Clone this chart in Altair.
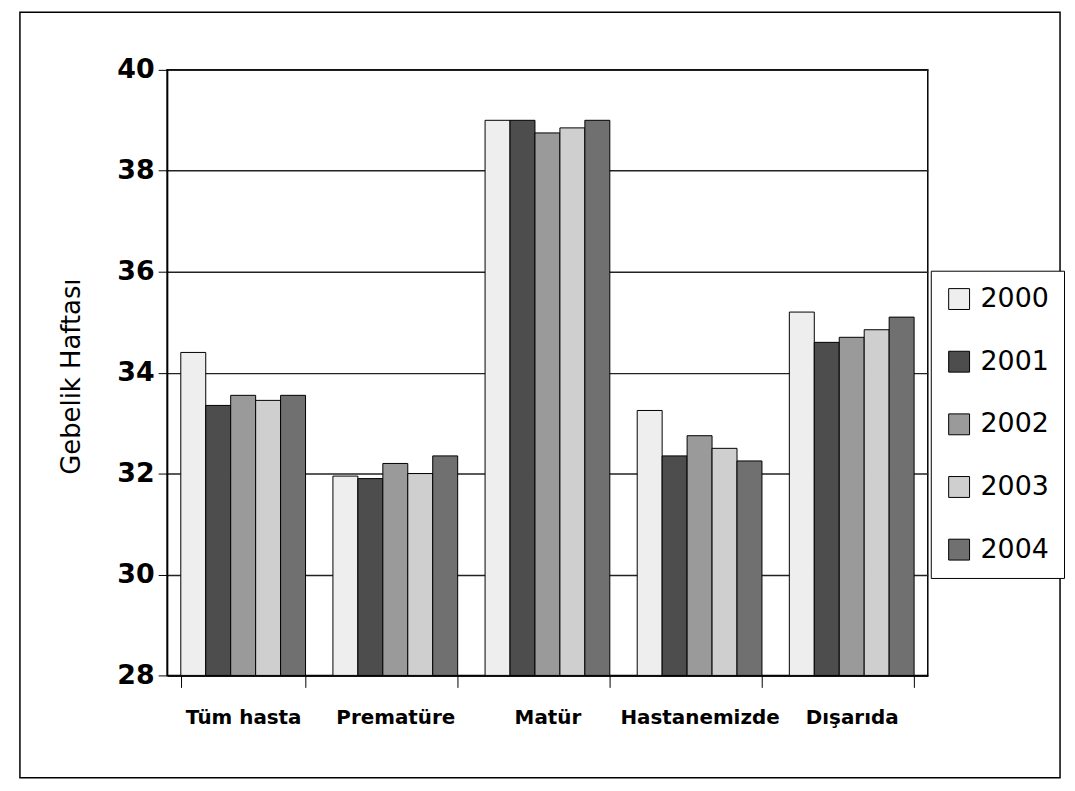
import altair as alt
import pandas as pd

categories = ["Tüm hasta", "Prematüre", "Matür", "Hastanemizde", "Dışarıda"]
years = ["2000", "2001", "2002", "2003", "2004"]
v2000 = [34.4, 31.95, 39.0, 33.25, 35.2]
v2001 = [33.35, 31.9, 39.0, 32.35, 34.6]
v2002 = [33.55, 32.2, 38.75, 32.75, 34.7]
v2003 = [33.45, 32.0, 38.85, 32.5, 34.85]
v2004 = [33.55, 32.35, 39.0, 32.25, 35.1]
fills = ["#eeeeee", "#4d4d4d", "#9a9a9a", "#cfcfcf", "#707070"]

series = [v2000, v2001, v2002, v2003, v2004]
rows = []
for yr, vals in zip(years, series):
    for cat, v in zip(categories, vals):
        rows.append({"kategori": cat, "yil": yr, "hafta": v})
df = pd.DataFrame(rows)

FONT = "DejaVu Sans"

bars = alt.Chart(df).mark_bar(stroke="black", strokeWidth=1).encode(
    x=alt.X(
        "kategori:N",
        sort=categories,
        scale=alt.Scale(paddingInner=0.18, paddingOuter=0.09),
        axis=alt.Axis(
            title=None,
            labelAngle=0,
            labelFont=FONT,
            labelFontSize=20,
            labelFontWeight="bold",
            labelColor="black",
            labelPadding=20,
            tickBand="extent",
            tickSize=12,
            tickColor="black",
            domainColor="black",
            domainWidth=1.5,
            grid=False,
        ),
    ),
    xOffset=alt.XOffset("yil:N", sort=years, scale=alt.Scale(paddingInner=0)),
    y=alt.Y(
        "hafta:Q",
        scale=alt.Scale(domain=[28, 40], zero=False, nice=False),
        axis=alt.Axis(
            title="Gebelik Haftası",
            titleFont=FONT,
            titleFontSize=26,
            titleFontWeight="normal",
            titleColor="black",
            titleAngle=270,
            titleAlign="center",
            titleBaseline="middle",
            titleX=-96,
            titleY=308,
            values=[28, 30, 32, 34, 36, 38, 40],
            labelFont=FONT,
            labelFontSize=27,
            labelFontWeight="bold",
            labelColor="black",
            labelPadding=4,
            tickSize=9,
            tickColor="black",
            domainColor="black",
            domainWidth=1.5,
            gridColor="#222222",
            gridWidth=1.5,
        ),
    ),
    y2=alt.datum(28),
    color=alt.Color(
        "yil:N",
        sort=years,
        scale=alt.Scale(domain=years, range=fills),
        legend=alt.Legend(
            title=None,
            orient="none",
            legendX=768,
            legendY=202,
            direction="vertical",
            symbolType="square",
            symbolSize=441,
            symbolStrokeColor="black",
            symbolStrokeWidth=1,
            symbolOpacity=1,
            labelFont=FONT,
            labelFontSize=27,
            labelColor="black",
            labelOffset=8,
            rowPadding=35,
            padding=15,
            strokeColor="black",
            fillColor="white",
        ),
    ),
)

frame = alt.Chart(alt.Data(values=[{}])).mark_rect(
    fill="white", fillOpacity=0, stroke="black", strokeWidth=1.5
).encode(
    x=alt.value(-148),
    x2=alt.value(898),
    y=alt.value(-58),
    y2=alt.value(712),
)

chart = alt.layer(frame, bars).properties(
    width=765,
    height=609,
    autosize=alt.AutoSizeParams(type="none"),
    padding={"left": 160, "top": 60, "right": 140, "bottom": 107},
    background="white",
).configure_view(stroke="black", strokeWidth=1.5)

chart.save("out.html", embed_options={"renderer": "svg", "actions": False})
